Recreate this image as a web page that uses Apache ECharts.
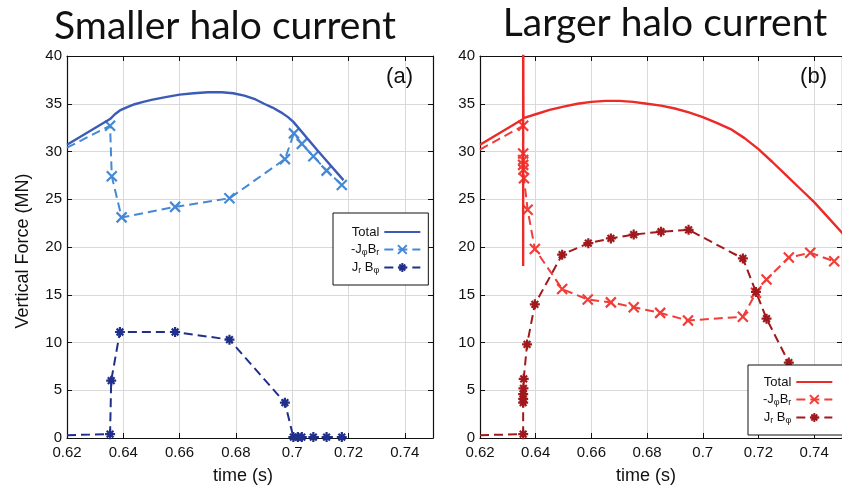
<!DOCTYPE html>
<html>
<head>
<meta charset="utf-8">
<script src="https://cdn.jsdelivr.net/npm/echarts@6/dist/echarts.min.js"></script>
<style>
  html, body { margin: 0; padding: 0; background: #ffffff; }
  #chart { width: 842px; height: 492px; }
</style>
</head>
<body>
<div id="chart"></div>
<script>
// ---- axis ranges and ticks ----
const timeRange = [0.62, 0.75];
const timeStep = 0.02;
const forceRange = [0, 40];
const forceStep = 5;

// ---- panel (a): smaller halo current, [time s, force MN] ----
const totalSmall = [
  [0.6200, 30.7], [0.6353, 33.4], [0.6370, 33.9], [0.6388, 34.3], [0.6410, 34.6],
  [0.6440, 34.95], [0.6471, 35.2], [0.6500, 35.4], [0.6550, 35.7], [0.6600, 35.95],
  [0.6650, 36.1], [0.6700, 36.2], [0.6750, 36.2], [0.6790, 36.1], [0.6830, 35.85],
  [0.6870, 35.45], [0.6900, 35.0], [0.6930, 34.6], [0.6960, 34.1], [0.6985, 33.6],
  [0.7004, 33.1], [0.7090, 30.1], [0.7182, 27.0]
];
const jphiBrSmall = [
  [0.6200, 30.4], [0.6353, 32.7], [0.6359, 27.4], [0.6394, 23.1], [0.6584, 24.2],
  [0.6777, 25.1], [0.6974, 29.2], [0.7006, 31.9], [0.7034, 30.8], [0.7075, 29.5],
  [0.7122, 28.0], [0.7176, 26.5]
];
const jrBphiSmall = [
  [0.6200, 0.3], [0.6353, 0.4], [0.6357, 6.0], [0.6388, 11.1], [0.6584, 11.1],
  [0.6777, 10.3], [0.6974, 3.7], [0.7004, 0.1], [0.7020, 0.1], [0.7034, 0.1],
  [0.7075, 0.1], [0.7122, 0.1], [0.7176, 0.1]
];

// ---- panel (b): larger halo current ----
const totalLarge = [
  [0.6200, 30.7], [0.6355, 33.4], [0.6355, 18.0], [0.6355, 45.0], [0.6356, 33.5],
  [0.6400, 33.9], [0.6450, 34.35], [0.6500, 34.7], [0.6550, 35.0], [0.6600, 35.2],
  [0.6650, 35.3], [0.6700, 35.3], [0.6750, 35.2], [0.6800, 35.0], [0.6850, 34.8],
  [0.6900, 34.5], [0.6950, 34.1], [0.7000, 33.6], [0.7050, 33.0], [0.7100, 32.35],
  [0.7150, 31.4], [0.7200, 30.25], [0.7250, 28.9], [0.7300, 27.5], [0.7350, 26.1],
  [0.7400, 24.7], [0.7450, 23.1], [0.7500, 21.5], [0.7520, 20.8]
];
const jphiBrLarge = [
  [0.6200, 30.2], [0.6355, 32.7], [0.6355, 29.8], [0.6355, 29.1], [0.6355, 28.6],
  [0.6356, 28.1], [0.6358, 27.2], [0.6371, 23.9], [0.6397, 19.8], [0.6495, 15.6],
  [0.6587, 14.5], [0.6670, 14.2], [0.6752, 13.7], [0.6847, 13.1], [0.6947, 12.3],
  [0.7144, 12.7], [0.7191, 15.2], [0.7229, 16.6], [0.7309, 18.9], [0.7386, 19.4],
  [0.7472, 18.5]
];
const jrBphiLarge = [
  [0.6200, 0.3], [0.6355, 0.4], [0.6355, 3.7], [0.6355, 4.1], [0.6355, 4.6],
  [0.6356, 5.2], [0.6357, 6.2], [0.6369, 9.8], [0.6397, 14.0], [0.6495, 19.2],
  [0.6589, 20.4], [0.6670, 20.9], [0.6752, 21.3], [0.6850, 21.6], [0.6949, 21.8],
  [0.7144, 18.8], [0.7191, 15.3], [0.7229, 12.5], [0.7309, 7.9]
];

// ---- text ----
const titles = ['Smaller halo current', 'Larger halo current'];
const panelTags = ['(a)', '(b)'];
const yAxisTitle = 'Vertical Force (MN)';
const xAxisTitle = 'time (s)';

const FONT = '"Liberation Sans", Arial, Helvetica, sans-serif';
const TITLE_FONT = 'Lato, "Open Sans", sans-serif';
const X_MARK = 'path://M0,0L10,10M10,0L0,10';
const STAR_MARK = 'path://M5,-0.5L5,10.5M-0.5,5L10.5,5M1.3,1.3L8.7,8.7M8.7,1.3L1.3,8.7';

const palette = {
  a: { total: '#3b5bb6', jphi: '#4589d6', jr: '#202f8c' },
  b: { total: '#ec2a28', jphi: '#f23c38', jr: '#a0191d' }
};

const chart = echarts.init(document.getElementById('chart'), null, { renderer: 'canvas' });

// value axes; each panel has a labelled bottom/left pair and a tick-only top/right pair
function timeAxis(gridIndex, position, labelled) {
  return {
    type: 'value', gridIndex, position,
    min: timeRange[0], max: timeRange[1], interval: timeStep,
    axisLine: { show: true, onZero: false, lineStyle: { color: '#111', width: 1.2 } },
    axisTick: { show: true, inside: true, length: 5, lineStyle: { color: '#111', width: 1 } },
    axisLabel: {
      show: labelled, showMaxLabel: false, margin: 7,
      fontFamily: FONT, fontSize: 15, color: '#111',
      formatter: v => String(+v.toFixed(2))
    },
    splitLine: { show: labelled, lineStyle: { color: '#d9d9d9', width: 1 } }
  };
}
function forceAxis(gridIndex, position, labelled) {
  return {
    type: 'value', gridIndex, position,
    min: forceRange[0], max: forceRange[1], interval: forceStep,
    axisLine: { show: true, onZero: false, lineStyle: { color: '#111', width: 1.2 } },
    axisTick: { show: true, inside: true, length: 5, lineStyle: { color: '#111', width: 1 } },
    axisLabel: { show: labelled, margin: 5, fontFamily: FONT, fontSize: 15, color: '#111' },
    splitLine: { show: labelled, lineStyle: { color: '#d9d9d9', width: 1 } }
  };
}

function curve(name, pts, panel, kind, color) {
  const axisIdx = panel * 2;
  const s = {
    type: 'line', name, data: pts, xAxisIndex: axisIdx, yAxisIndex: axisIdx,
    color, animation: false, clip: true, silent: true
  };
  if (kind === 'total') {
    s.symbol = 'circle';
    s.showSymbol = false;
    s.itemStyle = { color, opacity: 0 };
    s.lineStyle = { color, width: 2.4 };
    s.z = 3;
  } else {
    s.symbol = kind === 'jphi' ? X_MARK : STAR_MARK;
    s.symbolSize = 10;
    s.showSymbol = true;
    s.showAllSymbol = true;
    s.itemStyle = { color, borderColor: color, borderWidth: 2.2 };
    s.lineStyle = { color, width: 2, type: [9, 5] };
    // the curve enters the frame from the left edge, with no sample marker there
    s.data = pts.map((p, i) => (i === 0 ? { value: p, symbol: 'none' } : p));
    s.z = 2;
  }
  return s;
}

const legendRich = {
  s: { fontFamily: FONT, fontSize: 9, color: '#111', padding: [6, 0, 0, 0], lineHeight: 14 }
};
function legendLabel(name) {
  if (name.indexOf('Total') === 0) return 'Total';
  if (name.indexOf('-J') === 0) return '-J{s|φ}B{s|r}';
  return 'J{s|r} B{s|φ}';
}
function legendBox(left, top, names, padding) {
  return {
    orient: 'vertical', align: 'right', left, top,
    itemWidth: 36, itemHeight: 11, itemGap: 3,
    padding, backgroundColor: '#ffffff', borderColor: '#111', borderWidth: 1, borderRadius: 0,
    selectedMode: false,
    data: names,
    formatter: legendLabel,
    textStyle: { fontFamily: FONT, fontSize: 13, color: '#111', lineHeight: 14, rich: legendRich }
  };
}

const seriesNames = {
  a: ['Total (a)', '-JφBr (a)', 'JrBφ (a)'],
  b: ['Total (b)', '-JφBr (b)', 'JrBφ (b)']
};

const option = {
  backgroundColor: '#ffffff',
  animation: false,
  grid: [
    { left: 67, top: 56, width: 366, height: 382, show: false },
    { left: 480, top: 56, width: 367, height: 382, show: false }
  ],
  xAxis: [
    timeAxis(0, 'bottom', true), timeAxis(0, 'top', false),
    timeAxis(1, 'bottom', true), timeAxis(1, 'top', false)
  ],
  yAxis: [
    forceAxis(0, 'left', true), forceAxis(0, 'right', false),
    forceAxis(1, 'left', true), forceAxis(1, 'right', false)
  ],
  legend: [
    legendBox(333, 213, seriesNames.a, [12, 7, 10, 18]),
    legendBox(748, 365, seriesNames.b, [10, 12, 10, 15])
  ],
  series: [
    curve(seriesNames.a[0], totalSmall, 0, 'total', palette.a.total),
    curve(seriesNames.a[1], jphiBrSmall, 0, 'jphi', palette.a.jphi),
    curve(seriesNames.a[2], jrBphiSmall, 0, 'jr', palette.a.jr),
    curve(seriesNames.b[0], totalLarge, 1, 'total', palette.b.total),
    curve(seriesNames.b[1], jphiBrLarge, 1, 'jphi', palette.b.jphi),
    curve(seriesNames.b[2], jrBphiLarge, 1, 'jr', palette.b.jr)
  ],
  graphic: [
    { type: 'text', x: 225, y: 26.5, style: { text: titles[0], fontFamily: TITLE_FONT, fontSize: 39, fill: '#111', align: 'center', verticalAlign: 'middle' } },
    { type: 'text', x: 665, y: 23, style: { text: titles[1], fontFamily: TITLE_FONT, fontSize: 39, fill: '#111', align: 'center', verticalAlign: 'middle' } },
    { type: 'text', x: 413, y: 77, z: 10, style: { text: panelTags[0], fontFamily: FONT, fontSize: 22, fill: '#111', align: 'right', verticalAlign: 'middle' } },
    { type: 'text', x: 827, y: 77, z: 10, style: { text: panelTags[1], fontFamily: FONT, fontSize: 22, fill: '#111', align: 'right', verticalAlign: 'middle' } },
    { type: 'text', x: 23, y: 251, rotation: Math.PI / 2, style: { text: yAxisTitle, fontFamily: FONT, fontSize: 18, fill: '#111', align: 'center', verticalAlign: 'middle' } },
    { type: 'text', x: 243, y: 476, style: { text: xAxisTitle, fontFamily: FONT, fontSize: 18, fill: '#111', align: 'center', verticalAlign: 'middle' } },
    { type: 'text', x: 646, y: 476, style: { text: xAxisTitle, fontFamily: FONT, fontSize: 18, fill: '#111', align: 'center', verticalAlign: 'middle' } }
  ]
};

chart.setOption(option);
</script>
</body>
</html>
